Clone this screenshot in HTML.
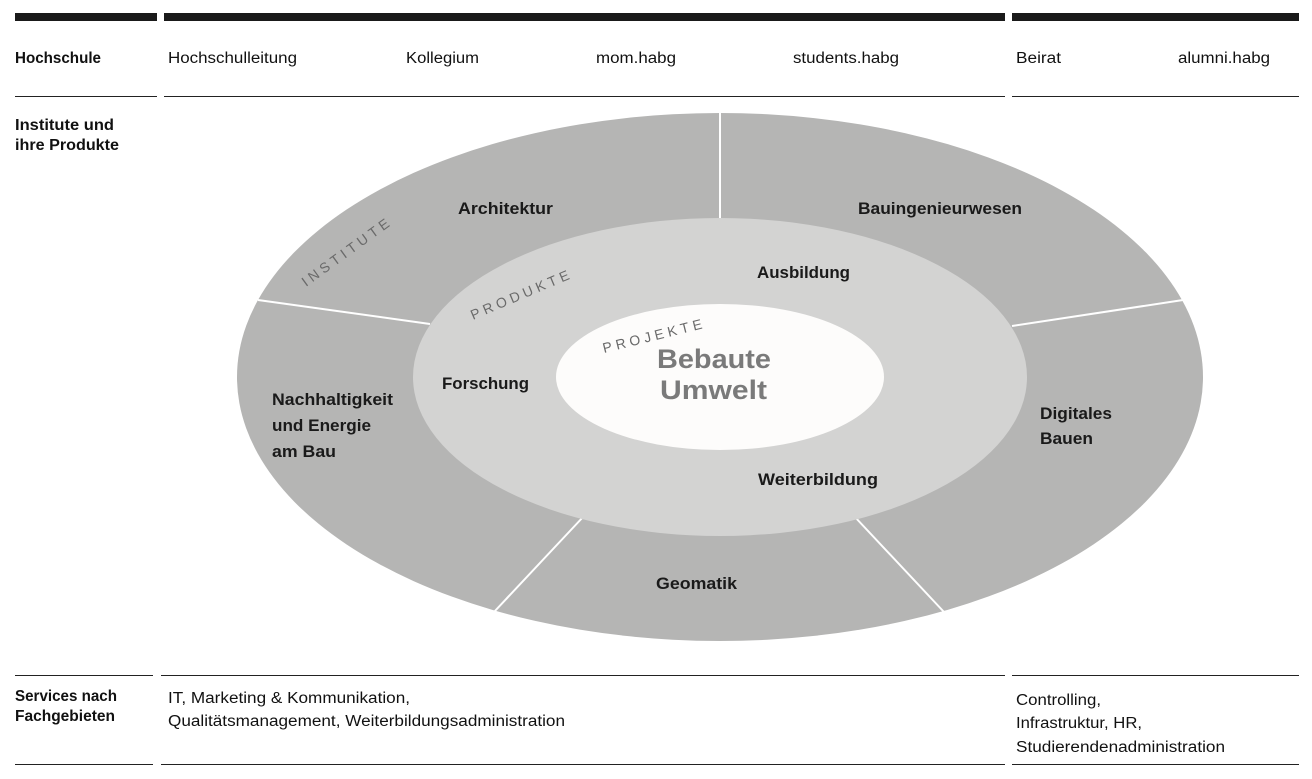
<!DOCTYPE html>
<html><head><meta charset="utf-8"><style>
body{margin:0;background:#fff;}
svg text{font-family:"Liberation Sans",sans-serif;}
</style></head><body>
<svg width="1312" height="774" xmlns="http://www.w3.org/2000/svg">
<g fill="#1a1a1a">
<rect x="15" y="13" width="142" height="8"/><rect x="164" y="13" width="841" height="8"/><rect x="1012" y="13" width="287" height="8"/>
</g>
<g stroke="#222" stroke-width="1">
<line x1="15" y1="96.5" x2="157" y2="96.5"/><line x1="164" y1="96.5" x2="1005" y2="96.5"/><line x1="1012" y1="96.5" x2="1299" y2="96.5"/>
<line x1="15" y1="675.5" x2="153" y2="675.5"/><line x1="161" y1="675.5" x2="1005" y2="675.5"/><line x1="1012" y1="675.5" x2="1299" y2="675.5"/>
<line x1="15" y1="764.5" x2="153" y2="764.5"/><line x1="161" y1="764.5" x2="1005" y2="764.5"/><line x1="1012" y1="764.5" x2="1299" y2="764.5"/>
</g>
<g font-size="15.5" fill="#111">
<text x="15" y="63" font-weight="bold" textLength="86" lengthAdjust="spacingAndGlyphs">Hochschule</text>
<text x="168" y="63" textLength="129" lengthAdjust="spacingAndGlyphs">Hochschulleitung</text>
<text x="406" y="63" textLength="73" lengthAdjust="spacingAndGlyphs">Kollegium</text>
<text x="596" y="63" textLength="80" lengthAdjust="spacingAndGlyphs">mom.habg</text>
<text x="793" y="63" textLength="106" lengthAdjust="spacingAndGlyphs">students.habg</text>
<text x="1016" y="63" textLength="45" lengthAdjust="spacingAndGlyphs">Beirat</text>
<text x="1178" y="63" textLength="92" lengthAdjust="spacingAndGlyphs">alumni.habg</text>
<text x="15" y="130" font-weight="bold" textLength="99" lengthAdjust="spacingAndGlyphs">Institute und</text>
<text x="15" y="150" font-weight="bold" textLength="104" lengthAdjust="spacingAndGlyphs">ihre Produkte</text>
<text x="15" y="701" font-weight="bold" textLength="102" lengthAdjust="spacingAndGlyphs">Services nach</text>
<text x="15" y="721" font-weight="bold" textLength="100" lengthAdjust="spacingAndGlyphs">Fachgebieten</text>
<text x="168" y="703" textLength="242" lengthAdjust="spacingAndGlyphs">IT, Marketing &amp; Kommunikation,</text>
<text x="168" y="726" textLength="397" lengthAdjust="spacingAndGlyphs">Qualitätsmanagement, Weiterbildungsadministration</text>
<text x="1016" y="705" textLength="85" lengthAdjust="spacingAndGlyphs">Controlling,</text>
<text x="1016" y="728" textLength="126" lengthAdjust="spacingAndGlyphs">Infrastruktur, HR,</text>
<text x="1016" y="752" textLength="209" lengthAdjust="spacingAndGlyphs">Studierendenadministration</text>
</g>
<ellipse cx="720" cy="377" rx="483" ry="264" fill="#b5b5b4"/>
<g stroke="#fff" stroke-width="2">
<line x1="720" y1="220" x2="720" y2="113"/>
<line x1="430" y1="324" x2="258" y2="300"/>
<line x1="1012" y1="326" x2="1183" y2="300"/>
<line x1="584" y1="516" x2="494" y2="612"/>
<line x1="854" y1="516" x2="944" y2="612"/>
</g>
<ellipse cx="720" cy="377" rx="307" ry="159" fill="#d3d3d2"/>
<ellipse cx="720" cy="377" rx="164" ry="73" fill="#fdfcfb"/>
<g font-size="16.5" font-weight="bold" fill="#1a1a1a">
<text x="458" y="214" textLength="95" lengthAdjust="spacingAndGlyphs">Architektur</text>
<text x="858" y="214" textLength="164" lengthAdjust="spacingAndGlyphs">Bauingenieurwesen</text>
<text x="757" y="278" textLength="93" lengthAdjust="spacingAndGlyphs">Ausbildung</text>
<text x="442" y="389" textLength="87" lengthAdjust="spacingAndGlyphs">Forschung</text>
<text x="272" y="405" textLength="121" lengthAdjust="spacingAndGlyphs">Nachhaltigkeit</text>
<text x="272" y="431" textLength="99" lengthAdjust="spacingAndGlyphs">und Energie</text>
<text x="272" y="457" textLength="64" lengthAdjust="spacingAndGlyphs">am Bau</text>
<text x="1040" y="419" textLength="72" lengthAdjust="spacingAndGlyphs">Digitales</text>
<text x="1040" y="444" textLength="53" lengthAdjust="spacingAndGlyphs">Bauen</text>
<text x="758" y="485" textLength="120" lengthAdjust="spacingAndGlyphs">Weiterbildung</text>
<text x="656" y="589" textLength="81" lengthAdjust="spacingAndGlyphs">Geomatik</text>
</g>
<g font-size="27" font-weight="bold" fill="#7a7a7a">
<text x="657" y="368" textLength="114" lengthAdjust="spacingAndGlyphs">Bebaute</text>
<text x="660" y="399" textLength="107" lengthAdjust="spacingAndGlyphs">Umwelt</text>
</g>
<g font-size="14" fill="#6a6a6a" letter-spacing="4">
<text transform="translate(306,287) rotate(-36)">INSTITUTE</text>
<text transform="translate(473,320) rotate(-23)">PRODUKTE</text>
<text transform="translate(604,353) rotate(-14)">PROJEKTE</text>
</g>
</svg>
</body></html>
